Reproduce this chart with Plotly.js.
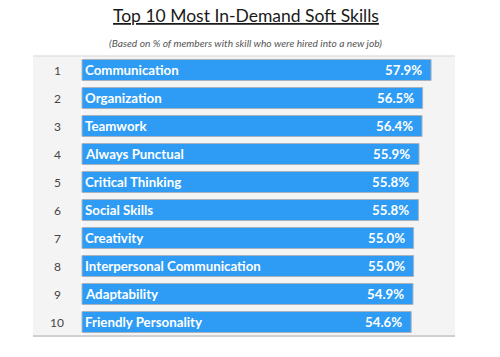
<!DOCTYPE html>
<html><head><meta charset="utf-8">
<script src="https://cdn.plot.ly/plotly-3.0.1.min.js"></script>
<style>html,body{margin:0;padding:0;background:#fff}#chart{width:500px;height:357px}</style>
</head><body><div id="chart"></div>
<script>
const ranks = ["1","2","3","4","5","6","7","8","9","10"];
const skills = ["Communication","Organization","Teamwork","Always Punctual","Critical Thinking","Social Skills","Creativity","Interpersonal Communication","Adaptability","Friendly Personality"];
const values = [57.9,56.5,56.4,55.9,55.8,55.8,55.0,55.0,54.9,54.6];
const valueLabels = values.map(v => v.toFixed(1) + "%");

const barTrace = {
  type: "bar", orientation: "h",
  x: values, y: ranks, width: 0.75,
  marker: {color: "#2e9cf4", line: {color: "#a9b3bd", width: 1}},
  text: skills, textposition: "inside", insidetextanchor: "start",
  textfont: {family: "Lato, sans-serif", size: 13.3, color: "#ffffff", weight: 700},
  constraintext: "none", cliponaxis: false, hoverinfo: "skip"
};

const annotations = [];
values.forEach((v,i) => {
  annotations.push({x: v, y: i, xref: "x", yref: "y", text: valueLabels[i], showarrow: false,
    xanchor: "right", xshift: -7, font: {family: "Lato, sans-serif", size: 13.3, color: "#ffffff", weight: 700}});
  annotations.push({x: -4.1, y: i, xref: "x", yref: "y", text: ranks[i], showarrow: false,
    xanchor: "center", font: {family: "Lato, sans-serif", size: 12, color: "#444444"}});
});
annotations.push({xref: "paper", yref: "paper", x: 0.504, y: 1, yshift: 41, xanchor: "center", yanchor: "middle",
  text: "<u>Top 10 Most In-Demand Soft Skills</u>", showarrow: false,
  font: {family: "Lato, sans-serif", size: 17.5, color: "#1a1a1a"}});
annotations.push({xref: "paper", yref: "paper", x: 0.504, y: 1, yshift: 13, xanchor: "center", yanchor: "middle",
  text: "<i>(Based on % of members with skill who were hired into a new job)</i>", showarrow: false,
  font: {family: "Lato, sans-serif", size: 10.2, color: "#555555"}});

const layout = {
  width: 500, height: 357,
  margin: {l: 33, r: 45, t: 56, b: 21, pad: 0},
  paper_bgcolor: "#ffffff", plot_bgcolor: "#f4f4f4",
  showlegend: false,
  xaxis: {range: [-8.13, 61.87], visible: false, fixedrange: true},
  yaxis: {type: "category", range: [9.5, -0.5], autorange: false, visible: false, fixedrange: true},
  annotations: annotations,
  shapes: [
    {type: "line", xref: "x", yref: "paper", x0: 0, x1: 0, y0: 0, y1: 1, line: {color: "#ffffff", width: 1.5}, layer: "below"},
    {type: "line", xref: "paper", yref: "paper", x0: 0, x1: 1, y0: 1, y1: 1, line: {color: "#e2e2e2", width: 1.5}},
    {type: "line", xref: "paper", yref: "paper", x0: 0, x1: 1, y0: 0, y1: 0, line: {color: "#d0d0d0", width: 2}}
  ]
};
Plotly.newPlot("chart", [barTrace], layout, {displayModeBar: false, staticPlot: true});
</script></body></html>
